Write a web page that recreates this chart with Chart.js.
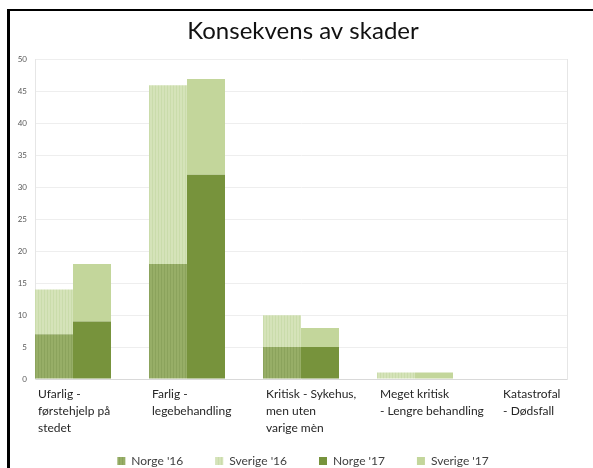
<!DOCTYPE html>
<html><head><meta charset="utf-8">
<script src="https://cdn.jsdelivr.net/npm/chart.js@4"></script>
<style>
html,body{margin:0;padding:0;background:#fff;overflow:hidden}
#wrap{position:relative;width:593px;height:468px}
#frame{position:absolute;left:7px;top:9px;right:0;bottom:0;border-left:3px solid #000;border-top:2px solid #000;pointer-events:none}
canvas{position:absolute;left:0;top:0}
</style></head><body>
<div id="wrap"><canvas id="c" width="593" height="468"></canvas><div id="frame"></div></div>
<script>
const categories = [
  ["Ufarlig -", "førstehjelp på", "stedet"],
  ["Farlig -", "legebehandling"],
  ["Kritisk - Sykehus,", "men uten", "varige mèn"],
  ["Meget kritisk", "- Lengre behandling"],
  ["Katastrofal", "- Dødsfall"]
];
const seriesNames = ["Norge '16", "Sverige '16", "Norge '17", "Sverige '17"];
const norge16   = [7, 18, 5, 0, 0];
const sverige16 = [7, 28, 5, 1, 0];
const norge17   = [9, 32, 5, 0, 0];
const sverige17 = [9, 15, 3, 1, 0];
const yTickStep = 5;
const yMax = 50;

function stripes(base, stripe) {
  const c = document.createElement('canvas');
  c.width = 3; c.height = 1;
  const g = c.getContext('2d');
  g.fillStyle = base; g.fillRect(0, 0, 3, 1);
  g.fillStyle = stripe; g.fillRect(2, 0, 1, 1);
  return g.createPattern(c, 'repeat');
}
const ctx = document.getElementById('c').getContext('2d');
const toXY = arr => arr.map((v, i) => ({x: i, y: v}));

Chart.defaults.font.family = "Lato, 'Open Sans', sans-serif";

// let the wrapped category labels extend below the x-axis box (no clipping)
const labelRoom = {
  id: 'labelRoom',
  afterLayout(chart) { chart.scales.x.bottom = chart.height; }
};
// the last category label sits slightly further right in the original
const lastLabelShift = 0.08;

new Chart(ctx, {
  type: 'bar',
  plugins: [labelRoom],
  data: {
    datasets: [
      {label: seriesNames[0], data: toXY(norge16), stack: 's16', backgroundColor: stripes('#97ae67', '#8ba35c')},
      {label: seriesNames[1], data: toXY(sverige16), stack: 's16', backgroundColor: stripes('#d5e3b9', '#cadcab')},
      {label: seriesNames[2], data: toXY(norge17), stack: 's17', backgroundColor: '#77933c'},
      {label: seriesNames[3], data: toXY(sverige17), stack: 's17', backgroundColor: '#c3d69b'}
    ]
  },
  options: {
    responsive: false,
    animation: false,
    categoryPercentage: 2 / 3,
    barPercentage: 1,
    borderWidth: 0,
    layout: {padding: {left: 13, right: 0, top: 10, bottom: 0}},
    plugins: {
      title: {
        display: true,
        text: 'Konsekvens av skader',
        color: '#111',
        font: {size: 24, weight: 'normal'},
        padding: {top: 7, bottom: 14}
      },
      legend: {
        position: 'bottom',
        maxHeight: 45,
        labels: {
          boxWidth: 8, boxHeight: 8, padding: 32,
          color: '#404040',
          font: {size: 12}
        }
      },
      tooltip: {enabled: false}
    },
    scales: {
      x: {
        type: 'linear',
        offset: false,
        stacked: true,
        min: -1 / 3,
        max: categories.length - 1 + 1 / 3,
        grid: {display: false, drawTicks: false, offset: false},
        border: {display: true, color: '#d9d9d9'},
        afterBuildTicks: s => {
          s.ticks = categories.map((_, i) => ({value: i === categories.length - 1 ? i + lastLabelShift : i, idx: i}));
        },
        afterFit: s => { s.height = 44; s.paddingLeft = 0; s.paddingRight = 0; },
        ticks: {
          autoSkip: false, maxRotation: 0, minRotation: 0,
          align: 'start', labelOffset: -35, padding: 7,
          color: '#262626',
          font: {size: 12, lineHeight: 17 / 12},
          callback: (v, i) => categories[i]
        }
      },
      y: {
        stacked: true,
        min: 0, max: yMax,
        afterFit: s => { s.width = 22; },
        grid: {color: '#eeeeee', drawTicks: false},
        border: {display: true, color: '#e6e6e6'},
        ticks: {stepSize: yTickStep, padding: 8, color: '#595959', font: {size: 8}}
      },
      yRight: {
        position: 'right',
        min: 0, max: yMax,
        afterFit: s => { s.width = 26; },
        grid: {display: false, drawTicks: false},
        border: {display: true, color: '#e6e6e6'},
        ticks: {display: false}
      }
    }
  }
});
</script>
</body></html>
